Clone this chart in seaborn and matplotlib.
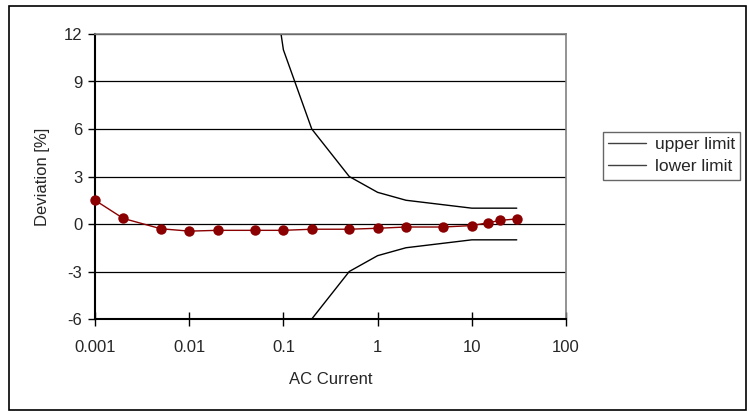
import matplotlib
matplotlib.use("Agg")
import matplotlib.pyplot as plt
import seaborn as sns
import pandas as pd
from matplotlib.patches import Rectangle
from matplotlib.lines import Line2D

current = [0.001, 0.002, 0.005, 0.01, 0.02, 0.05, 0.1, 0.2, 0.5, 1, 2, 5, 10, 15, 20, 30]
deviation = [1.5, 0.35, -0.3, -0.45, -0.4, -0.4, -0.4, -0.33, -0.33, -0.27, -0.19, -0.19, -0.1, 0.08, 0.23, 0.32]

limit_x = [0.05, 0.1, 0.2, 0.5, 1, 2, 10, 30]
upper_limit = [23, 11, 6, 3, 2, 1.5, 1, 1]
lower_limit = [-23, -11, -6, -3, -2, -1.5, -1, -1]

xticks = [0.001, 0.01, 0.1, 1, 10, 100]
xtick_labels = ["0.001", "0.01", "0.1", "1", "10", "100"]
yticks = [-6, -3, 0, 3, 6, 9, 12]

sns.set_style("white")
plt.rcParams['font.family'] = ['Liberation Sans', 'DejaVu Sans']

fig = plt.figure(figsize=(7.49, 4.11), dpi=100)
ax = fig.add_axes([95/749, 1-319/411, (566-95)/749, (319-34)/411])

df_meas = pd.DataFrame({"x": current, "y": deviation})
df_lim = pd.DataFrame({"x": limit_x, "up": upper_limit, "lo": lower_limit})

for yv in yticks:
    ax.axhline(yv, color="black", lw=0.9, zorder=0)

sns.lineplot(data=df_lim, x="x", y="up", ax=ax, color="black", lw=1.0, label="upper limit")
sns.lineplot(data=df_lim, x="x", y="lo", ax=ax, color="black", lw=1.0, label="lower limit")
sns.lineplot(data=df_meas, x="x", y="y", ax=ax, color="#8B0000", lw=1.0,
             marker="o", markersize=7.5, markeredgewidth=0, legend=False)
ax.lines[-1].set_clip_on(False)
ax.lines[-1].set_zorder(5)

ax.set_xscale("log")
ax.set_xlim(0.001, 100)
ax.set_ylim(-6, 12)
ax.set_xticks(xticks)
ax.set_xticklabels(xtick_labels)
ax.minorticks_off()
ax.set_yticks(yticks)
ax.set_yticklabels([str(v) for v in yticks])
ax.tick_params(axis="x", direction="inout", length=10, width=1, color="black", labelsize=12, pad=10)
ax.tick_params(axis="y", direction="out", length=5, width=1, color="black", labelsize=12, pad=4)
ax.tick_params(bottom=True, left=True)

for s in ["left", "bottom"]:
    ax.spines[s].set_color("black")
    ax.spines[s].set_linewidth(1.5)
for s in ["right", "top"]:
    ax.spines[s].set_color("#808080")
    ax.spines[s].set_linewidth(1.2)

ax.set_xlabel("AC Current", fontsize=12, labelpad=12)
ax.set_ylabel("Deviation [%]", fontsize=12, labelpad=10)

handles = [Line2D([], [], color="#404040", lw=1.0), Line2D([], [], color="#404040", lw=1.0)]
leg = ax.legend(handles, ["upper limit", "lower limit"], loc="upper left",
                bbox_to_anchor=(603/749, 1-132/411), bbox_transform=fig.transFigure,
                frameon=True, fancybox=False, fontsize=12.5, handlelength=2.2,
                handletextpad=0.5, borderpad=0.3, labelspacing=0.4, borderaxespad=0)
leg.get_frame().set_edgecolor("#404040")
leg.get_frame().set_linewidth(1.0)

fig.patches.append(Rectangle((9/749, 1/411), (746-9)/749, (405-1)/411,
                             transform=fig.transFigure, fill=False,
                             edgecolor="black", lw=1.2))

fig.savefig("out.png", dpi=100)
